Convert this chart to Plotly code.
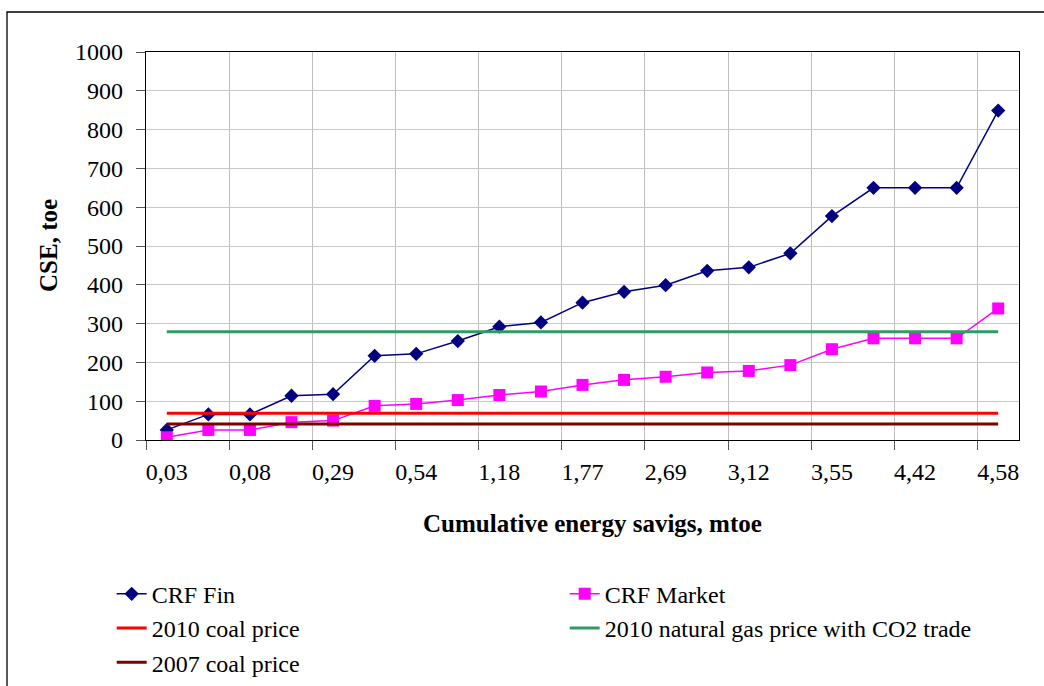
import plotly.graph_objects as go

# category labels (every second one is shown on the axis)
categories = ["0,03", "0,05", "0,08", "0,18", "0,29", "0,41", "0,54", "0,86", "1,18", "1,48",
              "1,77", "2,23", "2,69", "2,91", "3,12", "3,34", "3,55", "3,99", "4,42", "4,50", "4,58"]
crf_fin = [26, 66, 66, 114, 118, 217, 222, 255, 292, 303, 354, 382, 399, 436, 445, 481,
           577, 650, 650, 650, 849]
crf_market = [7, 26, 26, 46, 50, 88, 93, 103, 116, 125, 142, 155, 163, 174, 178, 193,
              234, 262, 262, 262, 339]
coal_2010 = 69
gas_2010_co2 = 279
coal_2007 = 41
y_ticks = list(range(0, 1001, 100))

idx = list(range(len(categories)))
FONT = "Liberation Serif"
FS = 24

fig = go.Figure()
fig.add_trace(go.Scatter(x=idx, y=crf_fin, name="CRF Fin", mode="lines+markers",
                         line=dict(color="#000080", width=1.5),
                         marker=dict(symbol="diamond", size=11, color="#000080")))
fig.add_trace(go.Scatter(x=idx, y=crf_market, name="CRF Market", mode="lines+markers",
                         line=dict(color="#FF00FF", width=1.5),
                         marker=dict(symbol="square", size=12, color="#FF00FF")))
fig.add_trace(go.Scatter(x=idx, y=[coal_2010] * len(idx), name="2010 coal price", mode="lines",
                         line=dict(color="#FF0000", width=3)))
fig.add_trace(go.Scatter(x=idx, y=[gas_2010_co2] * len(idx),
                         name="2010 natural gas price with CO2 trade", mode="lines",
                         line=dict(color="#339966", width=3)))
fig.add_trace(go.Scatter(x=idx, y=[coal_2007] * len(idx), name="2007 coal price", mode="lines",
                         line=dict(color="#800000", width=3)))

fig.update_layout(
    width=1044, height=686,
    margin=dict(l=146, r=25, t=52, b=246, autoexpand=False),
    paper_bgcolor="white", plot_bgcolor="white",
    font=dict(family=FONT, size=FS, color="black"),
    showlegend=True,
    legend=dict(orientation="h", x=-0.0393, xanchor="left", y=-0.3395, yanchor="top",
                entrywidth=408, entrywidthmode="pixels",
                font=dict(family=FONT, size=FS, color="black"),
                bgcolor="rgba(0,0,0,0)"),
    xaxis=dict(range=[-0.5, len(idx) - 0.5], tickmode="array",
               tickvals=idx[::2], ticktext=categories[::2],
               showgrid=False, ticks="", showline=True, linecolor="black", linewidth=1.3,
               mirror=True, zeroline=False, ticklabelstandoff=10,
               minor=dict(tick0=-0.5, dtick=2, showgrid=True, gridcolor="#BEBEBE",
                          gridwidth=1, ticks="outside", ticklen=9, tickcolor="#555555",
                          tickwidth=1.3)),
    yaxis=dict(range=[0, 1000], tickmode="array", tickvals=y_ticks,
               showgrid=True, gridcolor="#C8C8C8", gridwidth=1,
               ticks="outside", ticklen=9, tickcolor="#555555", tickwidth=1.3,
               showline=True, linecolor="black", linewidth=1.3, mirror=True,
               zeroline=False, ticklabelstandoff=8),
    annotations=[
        dict(text="<b>Cumulative energy savigs, mtoe</b>", xref="paper", yref="paper",
             x=(592 - 146) / 873, y=(440 - 523) / 388, xanchor="center", yanchor="middle",
             showarrow=False, font=dict(family=FONT, size=FS + 1)),
        dict(text="<b>CSE, toe</b>", xref="paper", yref="paper",
             x=(48 - 146) / 873, y=(440 - 246) / 388, xanchor="center", yanchor="middle",
             textangle=-90, showarrow=False, font=dict(family=FONT, size=FS + 1)),
    ],
    shapes=[dict(type="rect", xref="paper", yref="paper",
                 x0=(7 - 146) / 873, x1=(1080 - 146) / 873,
                 y0=(440 - 720) / 388, y1=(440 - 12) / 388,
                 line=dict(color="black", width=1.3), fillcolor="rgba(0,0,0,0)", layer="below")],
)

fig.write_html("out.html")
